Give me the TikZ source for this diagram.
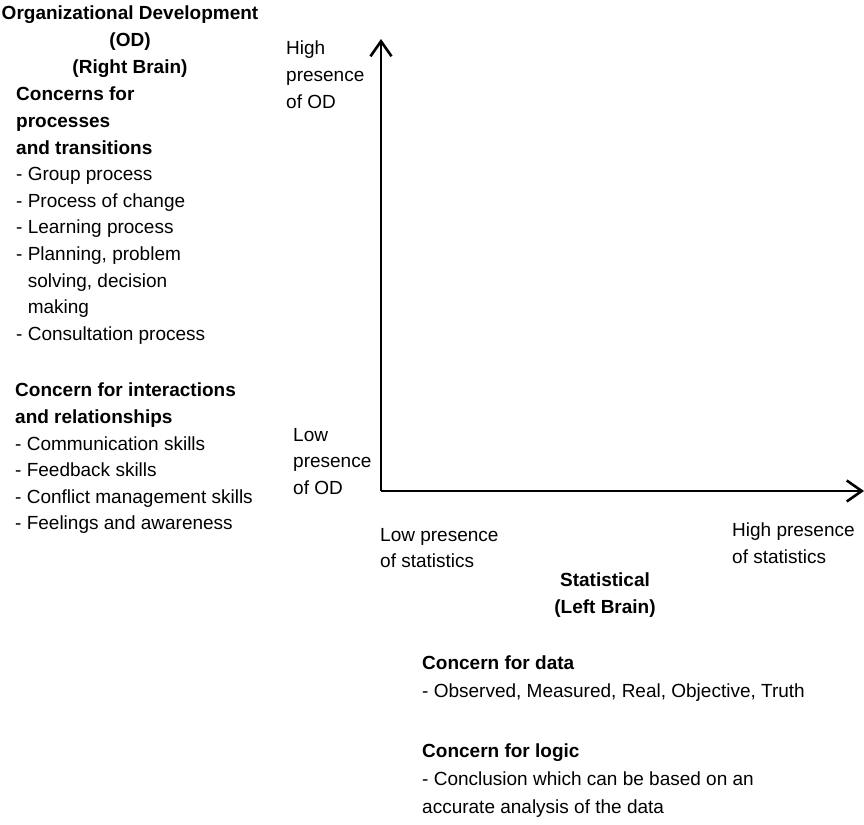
\documentclass[tikz,border=0pt]{standalone}
\usepackage{fontspec}
\setmainfont{Liberation Sans}
\usetikzlibrary{arrows.meta}
\tikzset{
    txt/.style={inner sep=0pt,anchor=north west,align=left,font=\fontsize{19}{26.6}\selectfont},
    ttl/.style={inner sep=0pt,anchor=north,align=center,font=\fontsize{19}{26.6}\selectfont\bfseries},
    axis/.style={line width=2pt,-{Straight Barb[length=15pt,width=21pt,line width=2.6pt]}}
}
\newcommand{\ind}{\phantom{-~}}
\begin{document}
\begin{tikzpicture}[x=1pt,y=-1pt]
        \useasboundingbox (0,0) rectangle (864,824);
        %% Two axes
        \coordinate (origin) at (381,491);
        \coordinate (ytop) at (381,39);
        \coordinate (xend) at (864,491);
        \draw[axis] (origin) -- (ytop);
        \draw[axis] (origin) -- (xend);
        %% OD side (right brain)
        \node[ttl] (odtitle) at (130,6) {Organizational Development\\(OD)\\(Right Brain)};
        \node[txt] (odprocess) at (16,87) {\textbf{Concerns for}\\\textbf{processes}\\\textbf{and transitions}\\
            - Group process\\- Process of change\\- Learning process\\- Planning, problem\\
            \ind solving, decision\\\ind making\\- Consultation process};
        \node[txt] (odrelation) at (15,383) {\textbf{Concern for interactions}\\\textbf{and relationships}\\
            - Communication skills\\- Feedback skills\\- Conflict management skills\\- Feelings and awareness};
        \node[txt] (highod) at (286,41) {High\\presence\\of OD};
        \node[txt] (lowod) at (293,428) {Low\\presence\\of OD};
        %% statistical side (left brain)
        \node[txt] (lowstat) at (380,528) {Low presence\\of statistics};
        \node[txt] (highstat) at (732,523) {High presence\\of statistics};
        \node[ttl] (stattitle) at (605,573) {Statistical\\(Left Brain)};
        \node[txt,font=\fontsize{19}{28}\selectfont] (data) at (422,656) {\textbf{Concern for data}\\- Observed, Measured, Real, Objective, Truth};
        \node[txt,font=\fontsize{19}{28}\selectfont] (logic) at (422,744) {\textbf{Concern for logic}\\- Conclusion which can be based on an\\accurate analysis of the data};
    \end{tikzpicture}
\end{document}
